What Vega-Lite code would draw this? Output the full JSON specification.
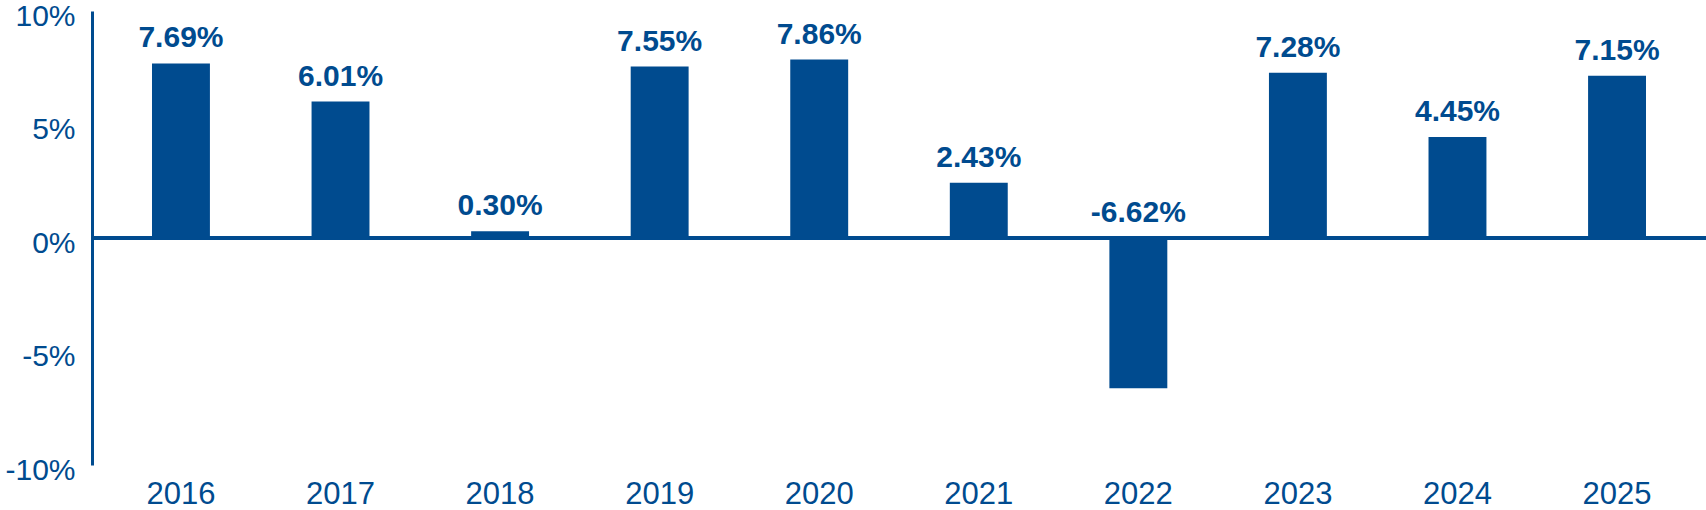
{
  "$schema": "https://vega.github.io/schema/vega-lite/v6.json",
  "autosize": "none",
  "padding": {"left": 92, "top": 11, "right": 0, "bottom": 45},
  "width": 1614,
  "height": 454,
  "background": "white",
  "config": {"view": {"stroke": null}},
  "data": {
    "values": [
      {"year": "2016", "value": 7.69, "label": "7.69%"},
      {"year": "2017", "value": 6.01, "label": "6.01%"},
      {"year": "2018", "value": 0.30, "label": "0.30%"},
      {"year": "2019", "value": 7.55, "label": "7.55%"},
      {"year": "2020", "value": 7.86, "label": "7.86%"},
      {"year": "2021", "value": 2.43, "label": "2.43%"},
      {"year": "2022", "value": -6.62, "label": "-6.62%"},
      {"year": "2023", "value": 7.28, "label": "7.28%"},
      {"year": "2024", "value": 4.45, "label": "4.45%"},
      {"year": "2025", "value": 7.15, "label": "7.15%"}
    ]
  },
  "layer": [
    {
      "mark": {"type": "bar", "color": "#004b8f"},
      "encoding": {
        "x": {
          "field": "year",
          "type": "ordinal",
          "scale": {"paddingInner": 0.637, "paddingOuter": 0.376},
          "axis": {
            "title": null,
            "domain": false,
            "ticks": false,
            "labelAngle": 0,
            "labelFont": "Liberation Sans",
            "labelFontSize": 31,
            "labelColor": "#004b8f",
            "labelPadding": 14
          }
        },
        "y": {
          "field": "value",
          "type": "quantitative",
          "scale": {"domain": [-10, 10]},
          "axis": {
            "title": null,
            "values": [-10, -5, 0, 5, 10],
            "labelExpr": "datum.value + '%'",
            "grid": false,
            "ticks": false,
            "domainColor": "#004b8f",
            "domainWidth": 3,
            "labelFont": "Liberation Sans",
            "labelFontSize": 30,
            "labelColor": "#004b8f",
            "labelPadding": 17,
            "labelOffset": 5
          }
        }
      }
    },
    {
      "mark": {"type": "rule", "color": "#004b8f", "strokeWidth": 4},
      "encoding": {"y": {"datum": 0, "type": "quantitative"}}
    },
    {
      "transform": [{"calculate": "max(datum.value, 0)", "as": "labelPos"}],
      "mark": {
        "type": "text",
        "baseline": "alphabetic",
        "dy": -16,
        "font": "Liberation Sans",
        "fontWeight": "bold",
        "fontSize": 30,
        "color": "#004b8f"
      },
      "encoding": {
        "x": {"field": "year", "type": "ordinal"},
        "y": {"field": "labelPos", "type": "quantitative"},
        "text": {"field": "label"}
      }
    }
  ]
}
